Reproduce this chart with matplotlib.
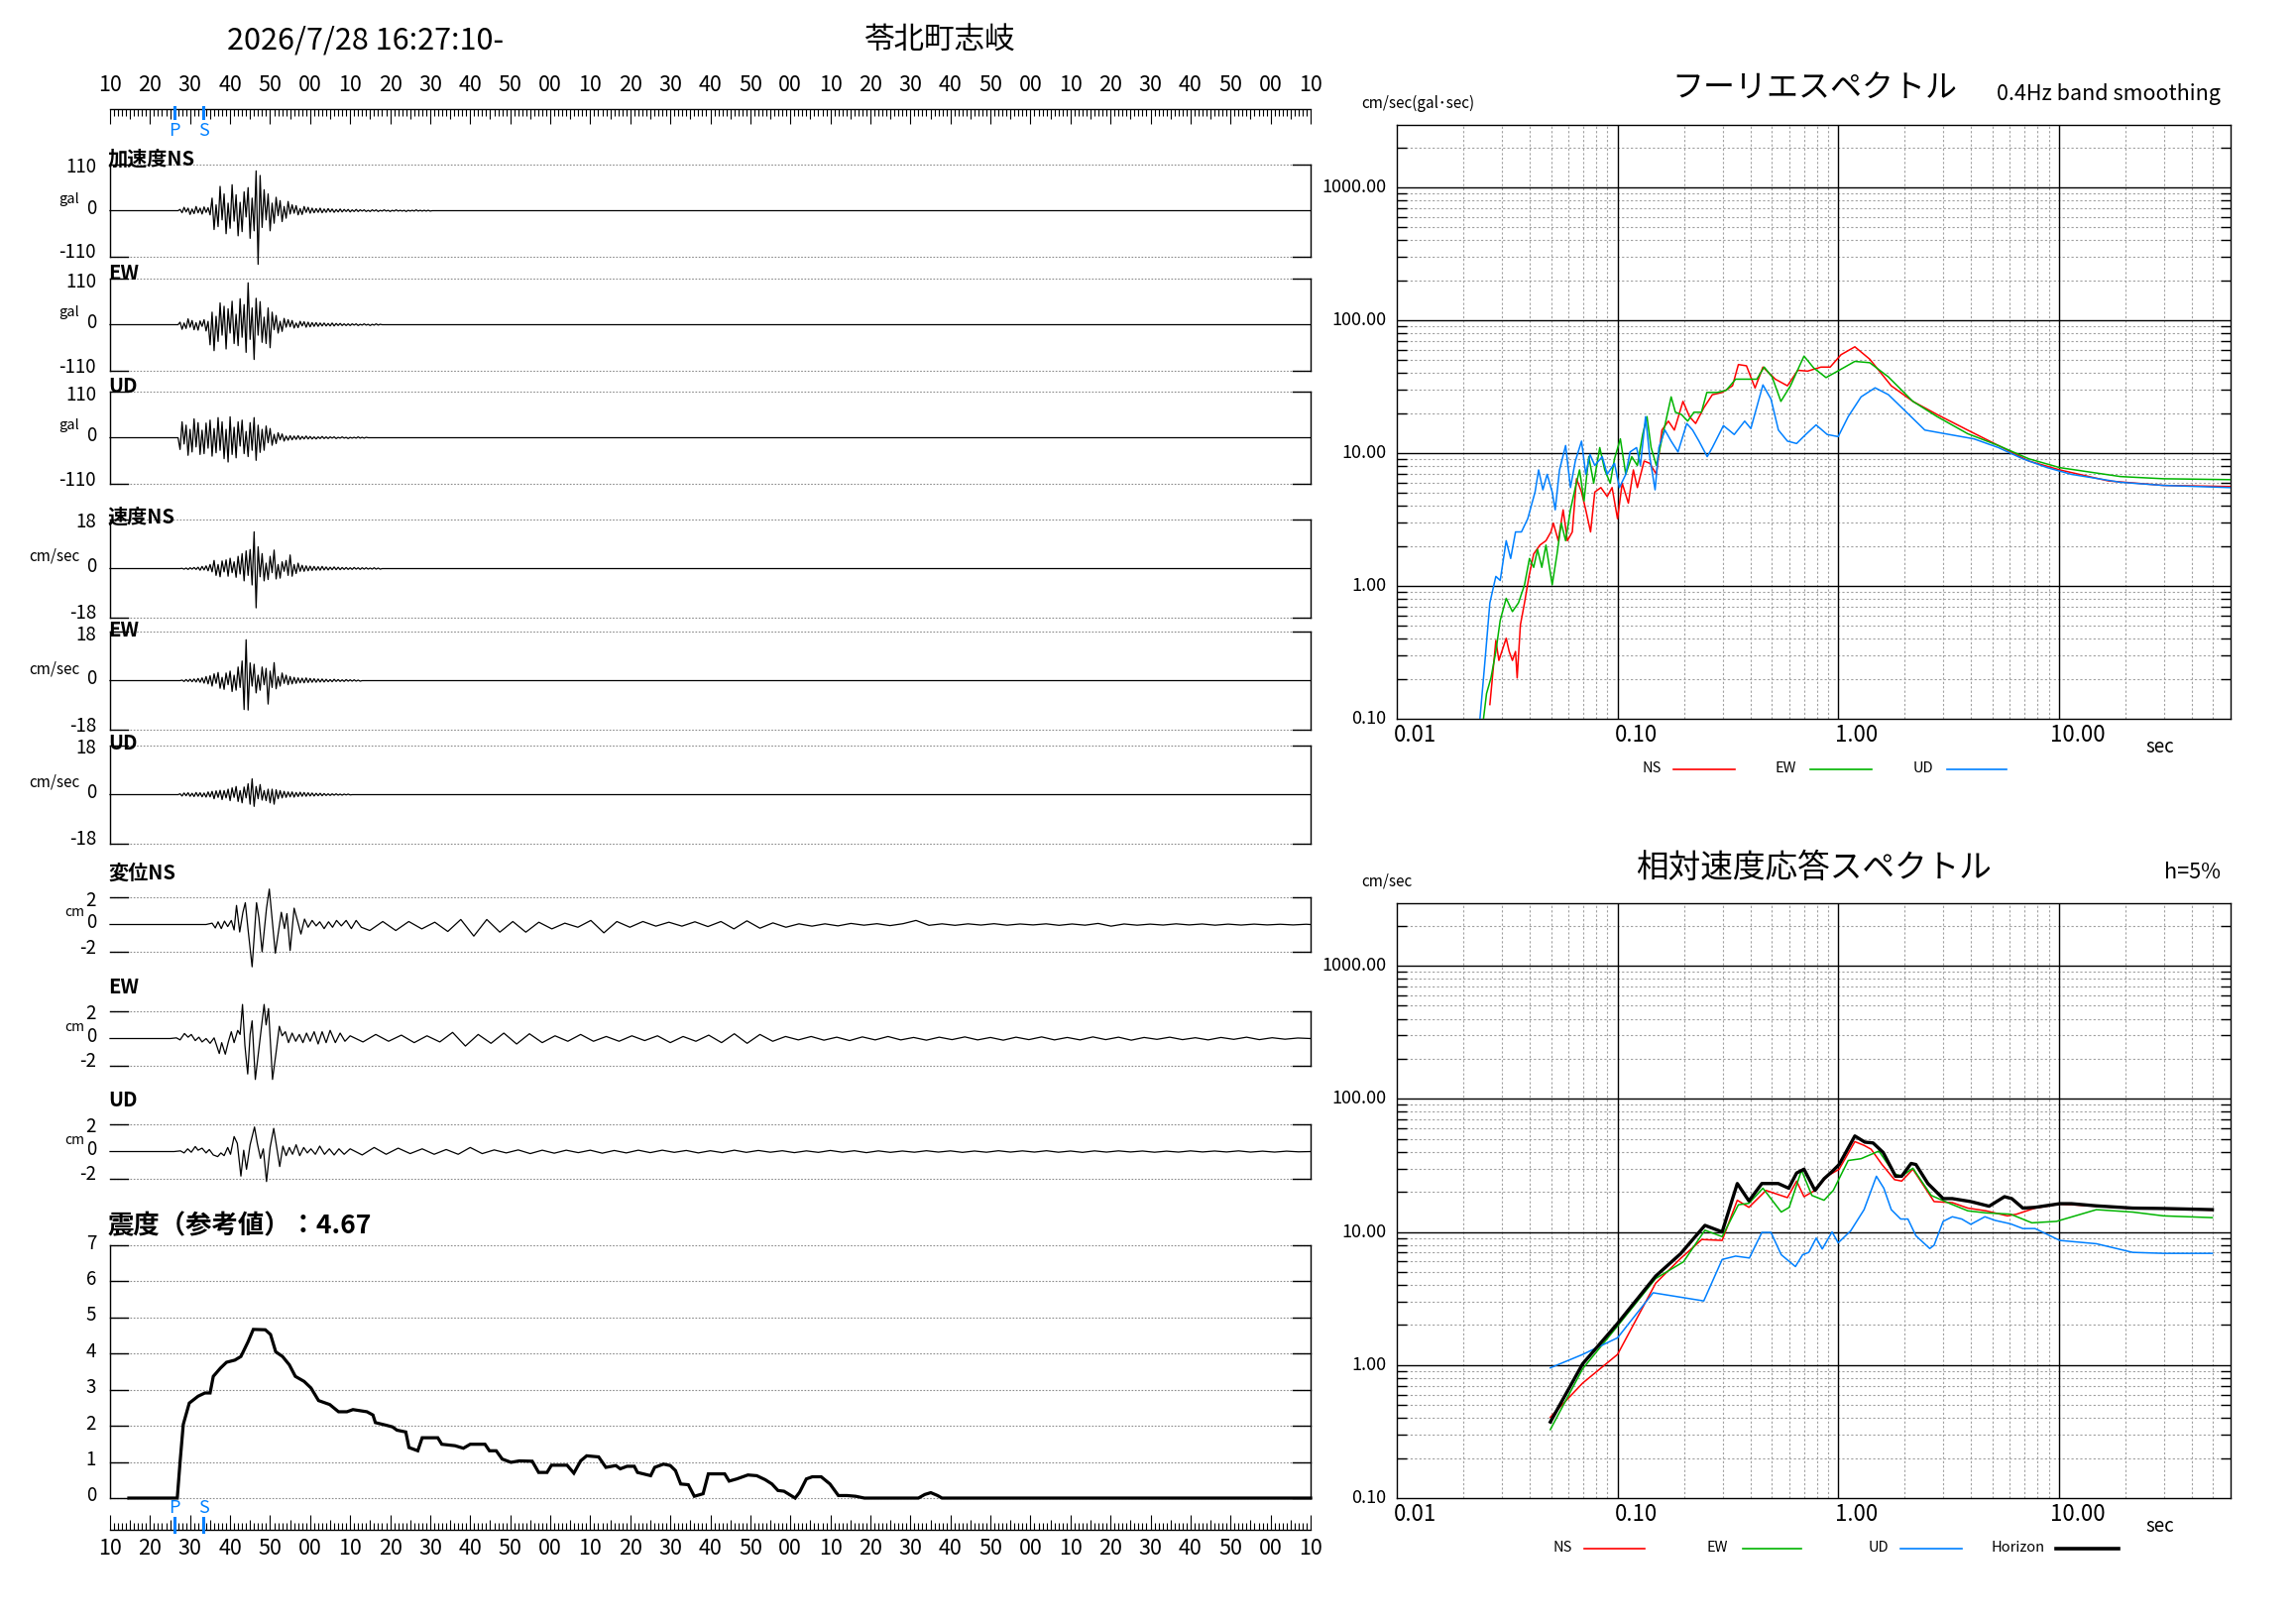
import numpy as np
import matplotlib
matplotlib.use('Agg')
import matplotlib.pyplot as plt
from matplotlib.ticker import NullLocator
from matplotlib.transforms import blended_transform_factory as blend

plt.rcParams['font.family'] = ['Noto Sans CJK JP', 'DejaVu Sans']

# ---------------- data ----------------
START_LABEL = '2026/7/28 16:27:10-'
STATION = '苓北町志岐'
START_SEC = 10          # 16:27:10
DURATION = 300
T_P, T_S = 16.0, 23.3
INTENSITY_TEXT = '震度（参考値）：4.67'

# acceleration (gal), sampled every 0.5 s from 17.5 s
ACC_T0, ACC_DT = 17.5, 0.5
ACC_NS = [3, -5, 8, -3, 6, -9, 4, -7, 10, -5, 6, -8, 9, -4, 7, -10,
          30, -45, 14, -38, 58, -22, 40, -55, 18,
          -42, 62, -25, 38, -60, 20, -50, 45, -15, 55, -66, 30,
          -48, 95, -128, 84, -40,
          50, -22, 40, -48, 18, -30,
          32, -12, 24, -26, 10, -18, 22, -8,
          14, -6, 12, -10, 5, -9, 10, -4, 8, -6,
          6, -5, 5, -4, 6, -5, 4, -4, 5, -3, 4, -4, 3, -3, 4, -3, 3, -2, 3, -3,
          2, -2, 3, -2, 2, -1, 2, -2, 1, -2, 2, -1, 2, -2, 1, -1, 2, -1, 1, -2,
          1, -1, 2, -1, 1, -1, 1, -2, 1, -1, 1, -1, 2, -1, 1, -1, 1, -1, 1, -1]
ACC_EW = [6, -11, 4, -9, 14, -6, 10, -12, 5, -13, 9, -4, 12, -15, 8,
          -48, 30, -62, 20, -40, 52, -25, 44, -58,
          38, -20, 56, -45, 25, -50, 62, -30, 48, -66,
          100, -35, 40, -83,
          63, -25, 55, -42, 18, -45, 40, -55,
          30, -12, 22, -20, 8, -16, 15, -6,
          12, -5, 10, -8, 4, -7, 8, -3, 7, -6,
          6, -5, 5, -4, 5, -4, 4, -3, 4, -3, 3, -3, 4, -3, 3, -2, 3, -2, 2, -2,
          2, -2, 2, -1, 2, -2, 1, -1, 2, -1, 1, -2, 1, -1, 2, -1, 1]
ACC_UD = [-28, 38, -15, 30, -42, 20, -34, 45, -22, 36, -40, 18, -38, 35, -25, 42,
          -44, 22, -36, 48, -30, 38, -50, 20, -58, 50,
          -40, 25, -48, 38, -20, 42, -38, 15, -45, 36, -30, 48,
          -54, 30, -35, 20, -30, 28, -12, 22,
          -18, 8, -14, 12, -5, 9, -8, 4,
          -6, 5, -5, 4, -4, 5, -4, 3, -3, 4, -3, 3, -3, 2, -3, 2, -2, 3, -2, 2,
          -2, 2, -1, 2, -2, 1, -1, 2, -1, 1, -2, 1, -1, 1, -1, 2, -1, 1, -1, 1]

# velocity (cm/sec), every 0.5 s
VEL_NS_T0, VEL_EW_T0, VEL_UD_T0, VEL_DT = 18.0, 18.0, 17.5, 0.5
VEL_NS = [0.1, -0.2, 0.2, -0.3, 0.3, -0.2, 0.4, -0.3,
          0.5, -0.6, 0.8, -0.5, 1.0, -0.8, 1.5, -1.2,
          3.0, -2.5, 1.5, -3.0, 2.8, -1.2, 3.2, -2.8,
          3.8, -1.5, 2.5, -3.2, 4.5, -2.0, 5.5, -4.5,
          6.5, -2.5, 7.0, -6.0, 13.5, -14.4,
          8.0, -3.0, 5.5, -4.5, 2.0, -4.0, 4.5, -1.5,
          6.8, -3.8, 1.5, -3.5, 2.5, -1.0, 3.0, -2.5,
          5.0, -2.8, 1.5, -1.8, 2.0, -1.0,
          1.2, -1.0, 1.0, -0.8, 0.9, -0.7, 0.8, -0.6, 0.7, -0.6,
          0.8, -0.5, 0.6, -0.5, 0.5, -0.4, 0.6, -0.4, 0.5, -0.4,
          0.4, -0.3, 0.4, -0.3, 0.3, -0.3, 0.4, -0.2, 0.3, -0.3,
          0.3, -0.2, 0.3, -0.2, 0.2, -0.2, 0.3, -0.2, 0.2, -0.2]
VEL_EW = [0.2, -0.3, 0.4, -0.3, 0.5, -0.4, 0.6, -0.5,
          0.8, -0.6, 1.0, -0.9, 1.5, -1.2, 1.8, -2.0,
          2.5, -1.0, 3.0, -2.8, 1.2, -3.2, 2.8, -1.5,
          3.5, -4.0, 2.0, -3.5, 5.0, -2.5, 7.2, -10.6,
          15.0, -10.8, 6.5, -2.0, 6.0, -4.5,
          2.0, -3.5, 5.0, -1.5, 4.5, -8.6, 3.5, -2.5,
          6.6, -3.0, 1.5, -2.0, 2.8, -1.0, 2.0, -1.5,
          1.5, -1.2, 1.2, -1.0, 1.0, -0.8, 0.9, -0.8, 1.0, -0.7,
          0.8, -0.6, 0.7, -0.6, 0.6, -0.5, 0.6, -0.5, 0.5, -0.4,
          0.4, -0.4, 0.5, -0.3, 0.4, -0.3, 0.3, -0.3, 0.4, -0.2,
          0.3, -0.2, 0.3, -0.2, 0.2, -0.2]
VEL_UD = [0.3, -0.5, 0.6, -0.4, 0.7, -0.6, 0.5, -0.7, 0.8, -0.6, 0.7, -0.8, 0.6, -0.9, 1.0, -0.8,
          1.2, -1.5, 1.4, -1.0, 1.6, -1.8, 1.5, -1.2, 2.0, -2.2,
          2.5, -1.0, 3.0, -2.5, 1.5, -3.0, 2.8, -1.2, 4.0, -3.5, 5.8, -4.3,
          3.0, -1.5, 3.7, -2.0, 1.5, -2.2, 2.0, -3.0,
          2.0, -3.5, 1.8, -1.5, 1.5, -1.2, 1.2, -1.0,
          1.0, -0.8, 1.0, -0.9, 0.8, -0.7, 0.9, -0.6, 0.8, -0.6,
          0.7, -0.5, 0.6, -0.5, 0.5, -0.4, 0.5, -0.4, 0.4, -0.3,
          0.3, -0.3, 0.3, -0.2, 0.3, -0.2, 0.2, -0.2, 0.2, -0.1, 0.2, -0.1]

# displacement (cm): early part as (time, value), later wiggles at a fixed step
DISP_NS_EARLY = [(24.0, 0), (25.5, 0.1), (26.3, -0.25), (27.0, 0.2), (27.8, -0.3), (28.6, 0.25),
                 (29.4, -0.15), (30.3, 0.3), (31.0, -0.4), (31.6, 1.4), (32.4, -0.55), (33.2, 0.9),
                 (33.8, 1.6), (34.5, -0.4), (35.5, -3.1), (36.6, 1.6), (37.2, 0.5), (38.0, -2.0),
                 (39.1, 1.2), (39.8, 2.6), (41.3, -2.1), (42.8, 0.9), (43.6, -0.3), (44.2, 0.8),
                 (45.0, -1.9), (46.0, 1.2), (46.9, 0.2), (47.7, -0.7), (48.6, 0.4), (49.5, -0.2),
                 (50.5, 0.3), (51.5, -0.1), (52.4, 0.2), (53.5, -0.3), (54.6, 0.2), (55.6, -0.2),
                 (56.6, 0.3), (57.8, -0.1), (59.0, 0.3), (60.3, -0.3), (61.5, 0.3), (62.8, -0.2)]
DISP_NS_T0, DISP_NS_DT = 64.9, 3.25
DISP_NS_TAIL = [-0.44, 0.22, -0.44, 0.22, -0.32, 0.17, -0.51, 0.37,
                -0.85, 0.37, -0.56, 0.22, -0.56, 0.17, -0.32, 0.1,
                -0.2, 0.3, -0.61, 0.22, -0.2, 0.22, -0.12, 0.17,
                -0.12, 0.2, -0.15, 0.22, -0.32, 0.27, -0.27, 0.12,
                -0.2, 0.05, -0.12, 0.05, -0.1, 0.08, -0.05, 0.06,
                -0.08, 0.06, 0.3, -0.06, 0.05, -0.06, 0.05, -0.04,
                0.06, -0.05, 0.04, -0.03, 0.05, -0.06, 0.04, -0.05,
                0.08, -0.12, 0.04, -0.05, 0.03, -0.04, 0.05, -0.03,
                0.04, -0.05, 0.03, -0.04, 0.03, -0.03, 0.02, -0.03, 0.02]
DISP_EW_EARLY = [(15.0, 0), (16.6, 0.05), (17.5, -0.1), (18.6, 0.37), (19.5, 0.1), (20.3, 0.3),
                 (21.3, -0.15), (22.2, 0.1), (23.0, -0.25), (24.0, 0.0), (25.0, -0.35), (26.0, 0.05),
                 (27.3, -1.1), (27.9, -0.3), (28.8, -1.15), (29.6, -0.2), (30.3, 0.5), (31.0, -0.3),
                 (31.9, 0.6), (32.5, 0.3), (33.1, 2.5), (33.7, -0.5), (34.4, -2.6), (35.0, 0.3),
                 (35.5, 1.3), (36.3, -3.0), (37.3, -0.5), (38.5, 2.5), (39.0, 1.0), (39.6, 2.2),
                 (40.6, -3.0), (41.5, -1.0), (42.3, 0.9), (43.0, 0.2), (43.8, 0.5), (44.6, -0.3),
                 (45.5, 0.4), (46.4, -0.2), (47.3, 0.3), (48.2, -0.3), (49.1, 0.4), (50.0, -0.2),
                 (51.0, 0.5), (52.0, -0.4), (53.0, 0.5), (54.0, -0.3), (55.0, 0.6), (56.3, -0.3),
                 (57.5, 0.4), (58.7, -0.2)]
DISP_EW_T0, DISP_EW_DT = 60.0, 3.2
DISP_EW_TAIL = [0.2, -0.25, 0.3, -0.2, 0.25, -0.3, 0.2, -0.25,
                0.45, -0.55, 0.3, -0.35, 0.4, -0.4, 0.35, -0.3,
                0.2, -0.2, 0.3, -0.2, 0.15, -0.2, 0.2, -0.15,
                0.2, -0.3, 0.15, -0.2, 0.25, -0.3, 0.35, -0.35,
                0.3, -0.2, 0.15, -0.1, 0.15, -0.12, 0.1, -0.15,
                0.12, -0.1, 0.15, -0.1, 0.08, -0.12, 0.1, -0.08,
                0.12, -0.1, 0.08, -0.12, 0.1, -0.08, 0.12, -0.1,
                0.08, -0.1, 0.12, -0.08, 0.1, -0.12, 0.08, -0.06,
                0.1, -0.08, 0.06, -0.1, 0.08, -0.06, 0.1, -0.08, 0.06, -0.05, 0.04]
DISP_UD_EARLY = [(16.0, 0), (17.6, 0.05), (18.5, -0.1), (19.4, 0.2), (20.3, -0.05), (21.3, 0.37),
                 (22.0, 0.1), (23.0, 0.25), (24.0, -0.1), (24.8, 0.15), (25.8, -0.25), (26.9, -0.37),
                 (27.7, -0.1), (28.5, -0.3), (29.4, 0.3), (30.1, -0.2), (31.0, 1.1), (31.8, 0.6),
                 (32.7, -1.8), (33.4, 0.1), (34.1, -1.3), (35.0, 0.5), (36.1, 1.8), (36.8, 0.6),
                 (37.6, -0.5), (38.3, 0.2), (39.1, -2.2), (40.0, 0.3), (40.9, 1.7), (41.6, 0.4),
                 (42.4, -1.1), (43.2, 0.4), (44.0, -0.3), (44.8, 0.3), (45.6, -0.2), (46.5, 0.5),
                 (47.4, -0.3), (48.4, 0.3), (49.3, -0.1), (50.2, 0.2), (51.3, -0.2), (52.4, 0.4),
                 (53.6, -0.2), (54.8, 0.2), (56.0, -0.25), (57.2, 0.2), (58.5, -0.2)]
DISP_UD_T0, DISP_UD_DT = 60.0, 3.0
DISP_UD_TAIL = [0.2, -0.25, 0.3, -0.2, 0.25, -0.15, 0.2, -0.2, 0.15, -0.2,
                0.3, -0.15, 0.12, -0.1, 0.12, -0.15, 0.1, -0.12, 0.1, -0.08,
                0.1, -0.12, 0.08, -0.1, 0.1, -0.08, 0.1, -0.06, 0.08, -0.1,
                0.06, -0.08, 0.1, -0.06, 0.08, -0.05, 0.06, -0.08, 0.05, -0.06,
                0.08, -0.05, 0.06, -0.08, 0.05, -0.06, 0.04, -0.05, 0.06, -0.04,
                0.05, -0.06, 0.04, -0.05, 0.06, -0.04, 0.05, -0.04, 0.06, -0.05,
                0.04, -0.06, 0.05, -0.04, 0.05, -0.03, 0.04, -0.05, 0.03, -0.04,
                0.05, -0.03, 0.04, -0.03, 0.05, -0.04, 0.03, -0.04, 0.03, -0.02]

# real-time seismic intensity
INT_T = [4.7, 16.8, 17.5, 18.3, 19.8, 22.0, 23.7, 25.0, 25.8, 27.6, 29.1, 31.2, 32.7, 34.5, 35.8,
         38.8, 40.1, 41.4, 43.1, 44.8, 46.3, 48.5, 50.2, 52.1, 54.9, 57.1, 59.2, 60.7, 64.2, 65.7,
         66.3, 68.9, 70.6, 71.7, 73.9, 74.7, 76.9, 78.0, 81.9, 82.9, 86.2, 88.3, 90.0, 93.7, 94.8,
         96.5, 98.0, 100.2, 102.3, 105.5, 107.1, 109.2, 110.3, 114.2, 115.9, 117.6, 119.1, 122.1,
         123.9, 126.4, 127.5, 129.2, 131.0, 131.8, 135.1, 136.1, 138.3, 140.0, 141.3, 142.6, 144.5,
         146.0, 148.2, 149.5, 153.6, 154.7, 156.6, 159.4, 161.6, 163.7, 165.4, 166.9, 168.4, 171.2,
         172.3, 174.0, 175.5, 177.7, 179.9, 182.0, 184.2, 186.3, 188.5, 202.0, 203.6, 205.1, 206.8,
         207.9, 300]
INT_V = [0, 0, 1.0, 2.04, 2.63, 2.82, 2.91, 2.91, 3.37, 3.60, 3.76, 3.82, 3.92, 4.33, 4.67,
         4.66, 4.53, 4.05, 3.92, 3.69, 3.37, 3.23, 3.05, 2.70, 2.59, 2.39, 2.39, 2.45, 2.39, 2.30,
         2.09, 2.02, 1.97, 1.88, 1.83, 1.40, 1.31, 1.67, 1.67, 1.49, 1.45, 1.38, 1.49, 1.49, 1.31,
         1.31, 1.08, 0.99, 1.03, 1.02, 0.71, 0.71, 0.91, 0.91, 0.69, 1.03, 1.17, 1.14,
         0.85, 0.90, 0.81, 0.88, 0.88, 0.71, 0.62, 0.85, 0.94, 0.90, 0.76, 0.39, 0.37,
         0.05, 0.12, 0.67, 0.67, 0.47, 0.53, 0.64, 0.62, 0.51, 0.39, 0.21, 0.19, 0.0,
         0.16, 0.53, 0.59, 0.59, 0.39, 0.07, 0.07, 0.05, 0, 0, 0.10, 0.15, 0.07,
         0, 0]

# Fourier spectra: (period sec, cm/sec)
FOURIER_NS = [(0.0264, 0.128), (0.0271, 0.203), (0.0281, 0.389), (0.0290, 0.275), (0.0299, 0.321),
              (0.0313, 0.404), (0.0323, 0.321), (0.0334, 0.275), (0.0345, 0.321), (0.0351, 0.203),
              (0.0363, 0.509), (0.0379, 0.747), (0.0397, 1.18), (0.0417, 1.74), (0.0445, 2.03),
              (0.0474, 2.19), (0.0499, 2.55), (0.0512, 2.97), (0.0539, 2.19), (0.0567, 3.74),
              (0.0593, 2.19), (0.0624, 2.55), (0.0652, 6.41), (0.0687, 5.09), (0.0718, 3.74),
              (0.0755, 2.55), (0.0789, 5.09), (0.0841, 5.50), (0.0898, 4.71), (0.0945, 5.50),
              (0.100, 3.21), (0.105, 5.93), (0.112, 4.20), (0.118, 7.47), (0.123, 5.50),
              (0.132, 8.71), (0.140, 8.38), (0.150, 6.92), (0.159, 14.9), (0.170, 17.4),
              (0.181, 14.9), (0.198, 24.5), (0.212, 18.8), (0.226, 16.7), (0.246, 21.9),
              (0.269, 27.5), (0.298, 28.6), (0.332, 32.1), (0.353, 46.4), (0.384, 45.4),
              (0.420, 30.9), (0.456, 44.4), (0.519, 36.0), (0.589, 32.1), (0.656, 42.0),
              (0.727, 41.4), (0.836, 44.4), (0.920, 44.4), (1.03, 55.0), (1.19, 63.1),
              (1.39, 50.9), (1.74, 32.1), (2.18, 24.5), (2.81, 19.5), (3.86, 14.9), (5.32, 11.4),
              (7.32, 8.71), (10.1, 7.47), (16.8, 6.17), (29.8, 5.71), (60, 5.60)]
FOURIER_EW = [(0.0247, 0.10), (0.0255, 0.155), (0.0267, 0.203), (0.0281, 0.321), (0.0294, 0.550),
              (0.0313, 0.807), (0.0334, 0.641), (0.0356, 0.747), (0.0379, 1.02), (0.0399, 1.61),
              (0.0417, 1.38), (0.0434, 1.88), (0.0454, 1.38), (0.0474, 2.03), (0.0506, 1.02),
              (0.0532, 1.74), (0.0556, 2.97), (0.0582, 2.19), (0.0612, 3.74), (0.0644, 5.50),
              (0.0673, 7.47), (0.0705, 4.36), (0.0741, 9.40), (0.0780, 5.93), (0.0831, 11.0),
              (0.0875, 7.47), (0.0927, 5.93), (0.0969, 9.05), (0.103, 12.8), (0.109, 6.92),
              (0.116, 9.40), (0.123, 8.07), (0.130, 13.8), (0.136, 18.8), (0.142, 11.0),
              (0.150, 8.07), (0.159, 12.8), (0.175, 26.5), (0.183, 20.3), (0.195, 19.5),
              (0.208, 17.4), (0.222, 20.3), (0.240, 20.3), (0.254, 28.6), (0.283, 28.6),
              (0.311, 29.7), (0.343, 36.0), (0.384, 36.0), (0.428, 36.0), (0.462, 44.4),
              (0.502, 37.4), (0.550, 24.5), (0.608, 32.1), (0.700, 53.7), (0.775, 43.7),
              (0.881, 37.0), (1.01, 42.0), (1.19, 49.0), (1.39, 47.9), (1.69, 37.4), (2.18, 24.5),
              (2.81, 18.8), (3.86, 14.0), (5.32, 11.4), (7.32, 9.05), (10.1, 7.77), (19.0, 6.66),
              (29.8, 6.41), (60, 6.31)]
FOURIER_UD = [(0.0238, 0.10), (0.0251, 0.275), (0.0264, 0.747), (0.0281, 1.18), (0.0294, 1.10),
              (0.0313, 2.19), (0.0328, 1.61), (0.0345, 2.55), (0.0367, 2.55), (0.0392, 3.21),
              (0.0423, 5.09), (0.0439, 7.47), (0.0459, 5.29), (0.0480, 6.92), (0.0506, 5.09),
              (0.0522, 3.74), (0.0546, 7.47), (0.0582, 11.4), (0.0612, 5.50), (0.0644, 8.71),
              (0.0687, 12.3), (0.0718, 6.92), (0.0750, 9.77), (0.0789, 8.07), (0.0853, 9.40),
              (0.0898, 6.92), (0.0969, 8.38), (0.102, 5.50), (0.109, 6.92), (0.114, 10.2),
              (0.122, 11.0), (0.127, 8.07), (0.134, 18.8), (0.140, 9.40), (0.148, 5.29),
              (0.154, 11.0), (0.164, 14.9), (0.175, 12.3), (0.188, 10.2), (0.206, 16.7),
              (0.219, 14.9), (0.234, 12.3), (0.255, 9.40), (0.269, 11.0), (0.302, 16.1),
              (0.338, 13.8), (0.377, 17.4), (0.402, 15.3), (0.456, 32.6), (0.496, 25.5),
              (0.536, 14.9), (0.589, 12.3), (0.648, 11.8), (0.713, 13.8), (0.794, 16.3),
              (0.892, 13.8), (1.00, 13.3), (1.11, 18.8), (1.27, 26.5), (1.47, 31.0), (1.69, 27.5),
              (2.04, 20.3), (2.47, 14.9), (3.19, 13.8), (4.12, 12.8), (5.32, 11.0), (6.87, 9.05),
              (8.86, 7.77), (11.4, 6.92), (19.0, 6.03), (29.8, 5.71), (60, 5.50)]

# relative velocity response spectra h=5%: (period sec, cm/sec)
RESP_NS = [(0.0496, 0.405), (0.0695, 0.731), (0.100, 1.20), (0.149, 4.12), (0.193, 6.31),
           (0.241, 8.77), (0.298, 8.63), (0.349, 17.3), (0.394, 15.3), (0.471, 20.5),
           (0.589, 18.1), (0.648, 24.1), (0.700, 18.4), (0.785, 20.5), (0.891, 26.2),
           (1.01, 29.6), (1.19, 47.7), (1.31, 44.7), (1.41, 41.8), (1.58, 32.1), (1.80, 24.7),
           (1.94, 24.1), (2.18, 29.6), (2.72, 16.9), (3.29, 16.6), (3.87, 15.1), (4.68, 14.4),
           (5.85, 13.2), (6.44, 13.6), (7.80, 15.1), (10.1, 16.2), (14.8, 15.6), (21.6, 15.0),
           (29.8, 14.9), (49.6, 14.6)]
RESP_EW = [(0.0496, 0.327), (0.0695, 0.936), (0.100, 1.96), (0.149, 4.47), (0.199, 5.96),
           (0.249, 10.3), (0.298, 9.21), (0.353, 16.0), (0.394, 16.4), (0.456, 21.3),
           (0.552, 14.1), (0.600, 15.3), (0.682, 29.1), (0.760, 18.8), (0.863, 17.3),
           (0.950, 20.5), (1.11, 34.4), (1.27, 35.5), (1.53, 40.5), (1.80, 27.3), (1.94, 26.2),
           (2.18, 30.1), (2.64, 18.8), (3.19, 16.4), (3.87, 14.4), (4.68, 13.9), (6.04, 13.6),
           (7.55, 11.7), (9.75, 12.0), (14.8, 14.7), (21.6, 14.1), (29.8, 13.2), (49.6, 12.8)]
RESP_UD = [(0.0496, 0.952), (0.0695, 1.20), (0.100, 1.60), (0.145, 3.49), (0.246, 3.03),
           (0.298, 6.21), (0.343, 6.58), (0.396, 6.37), (0.451, 9.91), (0.496, 9.91),
           (0.552, 6.74), (0.640, 5.49), (0.690, 6.74), (0.736, 7.02), (0.795, 8.99),
           (0.847, 7.44), (0.938, 10.0), (1.00, 8.28), (1.14, 10.2), (1.31, 14.7), (1.49, 26.2),
           (1.61, 21.3), (1.74, 14.7), (1.92, 12.5), (2.07, 12.5), (2.25, 9.36), (2.60, 7.50),
           (2.72, 7.94), (2.99, 12.0), (3.29, 13.0), (3.63, 12.5), (3.99, 11.4), (4.62, 13.0),
           (5.15, 12.2), (6.04, 11.5), (6.87, 10.6), (7.80, 10.6), (10.1, 8.63), (14.8, 8.15),
           (21.6, 7.02), (29.8, 6.90), (49.6, 6.90)]
RESP_H = [(0.0496, 0.373), (0.0695, 1.02), (0.100, 2.05), (0.149, 4.66), (0.193, 6.85),
          (0.249, 11.2), (0.298, 10.0), (0.349, 23.1), (0.394, 17.1), (0.451, 23.1),
          (0.535, 23.1), (0.597, 21.3), (0.648, 27.7), (0.700, 29.6), (0.785, 20.5),
          (0.863, 25.1), (0.938, 28.4), (1.01, 32.1), (1.19, 52.6), (1.32, 47.3), (1.44, 46.6),
          (1.60, 39.5), (1.82, 26.2), (1.94, 26.2), (2.14, 32.7), (2.25, 32.1), (2.55, 23.1),
          (2.99, 17.8), (3.29, 17.8), (3.99, 16.9), (4.83, 15.6), (5.67, 18.4), (6.12, 17.8),
          (6.87, 15.1), (7.80, 15.3), (10.1, 16.3), (11.4, 16.3), (14.8, 15.7), (21.6, 15.1),
          (29.8, 15.0), (49.6, 14.7)]

RED, GREEN, BLUE = '#ff0000', '#00b400', '#0080ff'

# ---------------- figure ----------------
W, H = 2316, 1637
fig = plt.figure(figsize=(W / 100, H / 100), dpi=100)
ov = fig.add_axes([0, 0, 1, 1])
ov.set_xlim(0, W)
ov.set_ylim(H, 0)
ov.axis('off')

X0, X1 = 111, 1322


def tpx(t):
    return X0 + np.asarray(t, dtype=float) * (X1 - X0) / DURATION


def box(l, t, r, b):
    return [l / W, 1 - b / H, (r - l) / W, (b - t) / H]


def uniform(t0, dt, vals):
    t = t0 + dt * np.arange(len(vals))
    return np.r_[0, t0 - dt, t, t[-1] + dt, DURATION], np.r_[0, 0, vals, 0, 0]


def joined(early, t0, dt, tail):
    te, ve = np.array(early).T
    tt = t0 + dt * np.arange(len(tail))
    return np.r_[0, te, tt, DURATION], np.r_[0, ve, tail, 0]


DOT = dict(color='#8c8c8c', lw=0.8, ls=(0, (1.5, 1.5)))

ov.text(229, 41, START_LABEL, ha='left', va='center', fontsize=22)
ov.text(947, 41, STATION, ha='center', va='center', fontsize=22)

# time rulers
secs = np.arange(0, DURATION + 1)
long_ = secs % 10 == 0
mid_ = (secs % 5 == 0) & ~long_
short = ~(long_ | mid_)
for y, sgn, ly in ((110, 1, 86), (1543, -1, 1562)):
    ov.plot([X0, X1], [y, y], color='k', lw=1)
    ov.vlines(tpx(secs[short]), y, y + sgn * 7, color='k', lw=0.8)
    ov.vlines(tpx(secs[mid_]), y, y + sgn * 10, color='k', lw=0.8)
    ov.vlines(tpx(secs[long_]), y, y + sgn * 15, color='k', lw=0.8)
    for t in range(0, DURATION + 1, 10):
        ov.text(tpx(t), ly, '%02d' % ((START_SEC + t) % 60), ha='center', va='center', fontsize=15.5)

for tp, lab in ((T_P, 'P'), (T_S, 'S')):
    ov.plot([tpx(tp)] * 2, [108, 119], color=BLUE, lw=2.2)
    ov.text(tpx(tp), 132, lab, color=BLUE, ha='center', va='center', fontsize=13)
    ov.plot([tpx(tp)] * 2, [1531, 1545], color=BLUE, lw=2.2)
    ov.text(tpx(tp), 1521, lab, color=BLUE, ha='center', va='center', fontsize=13)


def panel(top, bot, amp, t, v, name, name_y, unit, unit_x, unit_fs, lab, left_line=True):
    mid = (top + bot) / 2
    for y in (top, bot):
        ov.plot([X0, X1], [y, y], **DOT)
        ov.plot([X0, X0 + 18], [y, y], color='k', lw=1)
        ov.plot([X1 - 18, X1], [y, y], color='k', lw=1)
    ov.plot([X1, X1], [top, bot], color='k', lw=1)
    if left_line:
        ov.plot([X0, X0], [top, bot], color='k', lw=1)
    ov.text(97, top + 3, lab, ha='right', va='center', fontsize=13.5)
    ov.text(97, mid - 2, '0', ha='right', va='center', fontsize=13.5)
    ov.text(97, bot - 4, '-' + lab, ha='right', va='center', fontsize=13.5)
    ov.text(unit_x, mid - 12, unit, ha='right', va='center', fontsize=unit_fs)
    ov.text(109, name_y, name, ha='left', va='center', fontsize=14.5, fontweight='bold')
    ax = fig.add_axes(box(X0, top, X1, bot))
    ax.set_xlim(0, DURATION)
    ax.set_ylim(-amp, amp)
    ax.axis('off')
    ax.plot(t, v, color='k', lw=0.9, clip_on=False)


acc = [ACC_NS, ACC_EW, ACC_UD]
for i, (top, nm, ny) in enumerate(zip([166, 281, 395], ['加速度NS', 'EW', 'UD'], [160, 275, 390])):
    t, v = uniform(ACC_T0, ACC_DT, acc[i])
    panel(top, top + 93, 110, t, v, nm, ny, 'gal', 80, 10.5, '110')

vel = [(VEL_NS_T0, VEL_NS), (VEL_EW_T0, VEL_EW), (VEL_UD_T0, VEL_UD)]
for i, (top, nm, ny) in enumerate(zip([524, 637, 752], ['速度NS', 'EW', 'UD'], [521, 635, 750])):
    t, v = uniform(vel[i][0], VEL_DT, vel[i][1])
    panel(top, top + 99, 18, t, v, nm, ny, 'cm/sec', 81, 11, '18')

disp = [joined(DISP_NS_EARLY, DISP_NS_T0, DISP_NS_DT, DISP_NS_TAIL),
        joined(DISP_EW_EARLY, DISP_EW_T0, DISP_EW_DT, DISP_EW_TAIL),
        joined(DISP_UD_EARLY, DISP_UD_T0, DISP_UD_DT, DISP_UD_TAIL)]
for i, (top, nm, ny) in enumerate(zip([905, 1020, 1134], ['変位NS', 'EW', 'UD'], [880, 995, 1109])):
    panel(top, top + 55, 2, disp[i][0], disp[i][1], nm, ny, 'cm', 85, 10, '2', left_line=False)

# intensity panel
IT, IB = 1256, 1511
ov.plot([X0, X0], [IT, IB], color='k', lw=1)
ov.plot([X1, X1], [IT, IB], color='k', lw=1)
for k in range(8):
    y = IB - k * (IB - IT) / 7
    ov.plot([X0, X1], [y, y], **DOT)
    ov.plot([X0, X0 + 18], [y, y], color='k', lw=1)
    ov.plot([X1 - 18, X1], [y, y], color='k', lw=1)
    ov.text(97, y - 2, str(k), ha='right', va='center', fontsize=13.5)
ov.text(109, 1237, INTENSITY_TEXT, ha='left', va='center', fontsize=19, fontweight='bold')
axi = fig.add_axes(box(X0, IT, X1, IB))
axi.set_xlim(0, DURATION)
axi.set_ylim(0, 7)
axi.axis('off')
axi.plot(INT_T, INT_V, color='k', lw=2.3, clip_on=False, solid_joinstyle='miter')

# spectra
YTOP = 10 ** 3.47


def spectrum(top, bot, series, title, title_y, title_fs, note, note_y, unit, unit_y, legend, leg_y):
    ax = fig.add_axes(box(1409, top, 2250, bot))
    ax.set_xscale('log')
    ax.set_yscale('log')
    ax.set_xlim(0.01, 60)
    ax.set_ylim(0.1, YTOP)
    for dec in (0.01, 0.1, 1, 10):
        for k in range(2, 10):
            if dec * k < 60:
                ax.axvline(dec * k, color='#a0a0a0', lw=0.8, ls=(0, (2, 2)), zorder=1)
    yminor = [d * k for d in (0.1, 1, 10, 100, 1000) for k in range(2, 10) if d * k < YTOP]
    for y in yminor:
        ax.axhline(y, color='#a0a0a0', lw=0.8, ls=(0, (2, 2)), zorder=1)
    for x in (0.1, 1, 10):
        ax.axvline(x, color='k', lw=1, zorder=1.5)
    for y in (1, 10, 100, 1000):
        ax.axhline(y, color='k', lw=1, zorder=1.5)
    ax.xaxis.set_major_locator(NullLocator())
    ax.xaxis.set_minor_locator(NullLocator())
    ax.set_yticks([])
    ax.set_yticks(yminor, minor=True)
    ax.tick_params(axis='y', which='minor', direction='in', length=7, width=1,
                   left=True, right=True, labelleft=False)
    for s in ax.spines.values():
        s.set_linewidth(1)
    ty = blend(ax.transAxes, ax.transData)
    for val, lab in zip((0.1, 1, 10, 100, 1000), ('0.10', '1.00', '10.00', '100.00', '1000.00')):
        ax.text(-0.013, val, lab, transform=ty, ha='right', va='center', fontsize=13)
    tx = blend(ax.transData, ax.transAxes)
    for val, lab in zip((0.01, 0.1, 1, 10), ('0.01', '0.10', '1.00', '10.00')):
        ax.text(val * 1.215, -0.008, lab, transform=tx, ha='center', va='top', fontsize=16)
    ax.text(0.898, -0.047, 'sec', transform=ax.transAxes, ha='left', va='center', fontsize=13.5)
    for data, col, lw in series:
        p, a = np.array(data).T
        ax.plot(p, a, color=col, lw=lw, zorder=3)
    ov.text(1830, title_y, title, ha='center', va='center', fontsize=title_fs)
    ov.text(2240, note_y, note, ha='right', va='center', fontsize=15.5)
    ov.text(1373, unit_y, unit, ha='left', va='center', fontsize=11)
    for lab, xr, xa, xb, col, lw in legend:
        ov.text(xr, leg_y, lab, ha='right', va='center', fontsize=10.5)
        ov.plot([xa, xb], [leg_y + 1, leg_y + 1], color=col, lw=lw)


spectrum(126, 725,
         [(FOURIER_NS, RED, 1.1), (FOURIER_EW, GREEN, 1.1), (FOURIER_UD, BLUE, 1.1)],
         'フーリエスペクトル', 90, 23, '0.4Hz band smoothing', 95, 'cm/sec(gal･sec)', 104,
         [('NS', 1676, 1688, 1750, RED, 1.2), ('EW', 1812, 1826, 1888, GREEN, 1.2),
          ('UD', 1950, 1964, 2024, BLUE, 1.2)], 775)
spectrum(911, 1511,
         [(RESP_NS, RED, 1.1), (RESP_EW, GREEN, 1.1), (RESP_UD, BLUE, 1.1), (RESP_H, 'k', 2.4)],
         '相対速度応答スペクトル', 876, 23.5, 'h=5%', 880, 'cm/sec', 889,
         [('NS', 1586, 1598, 1659, RED, 1.2), ('EW', 1743, 1758, 1817, GREEN, 1.2),
          ('UD', 1905, 1917, 1979, BLUE, 1.2), ('Horizon', 2063, 2074, 2137, 'k', 2.6)], 1561)

fig.savefig('out.png', dpi=100)
